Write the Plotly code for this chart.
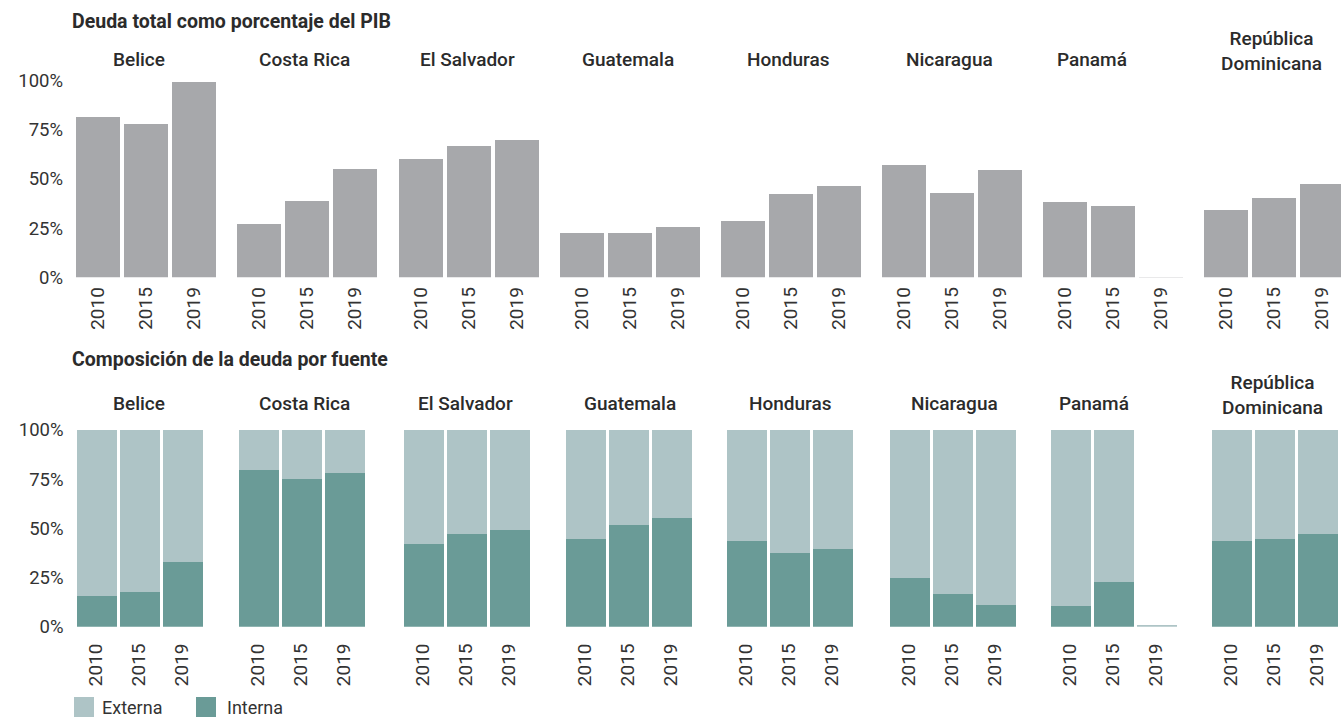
import plotly.graph_objects as go

# ---------------- data ----------------
countries = ["Belice", "Costa Rica", "El Salvador", "Guatemala", "Honduras",
             "Nicaragua", "Panamá", "República<br>Dominicana"]
years = ["2010", "2015", "2019"]

# Deuda total como porcentaje del PIB (%)
total_2010 = [81.5, 27.1, 60.6, 23.0, 29.1, 57.1, 38.3, 34.7]
total_2015 = [77.9, 38.8, 67.2, 23.0, 42.8, 43.3, 36.7, 40.8]
total_2019 = [99.6, 55.5, 69.8, 25.6, 46.4, 55.0, 0.4, 47.9]

# Composición de la deuda por fuente (%)
interna_2010 = [15.6, 79.7, 42.0, 44.6, 43.6, 24.8, 10.5, 43.6]
interna_2015 = [17.6, 75.1, 47.1, 51.7, 37.5, 16.6, 22.7, 44.6]
interna_2019 = [32.9, 78.1, 49.2, 55.3, 39.5, 11.0, 0.0, 47.1]
externa_2010 = [84.4, 20.3, 58.0, 55.4, 56.4, 75.2, 89.5, 56.4]
externa_2015 = [82.4, 24.9, 52.9, 48.3, 62.5, 83.4, 77.3, 55.4]
externa_2019 = [67.1, 21.9, 50.8, 44.7, 60.5, 89.0, 0.4, 52.9]

y_ticks = [0, 25, 50, 75, 100]
y_tick_text = [f"{v}%" for v in y_ticks]

# ---------------- style / layout ----------------
W, H = 1341, 717
FONT = "Roboto"
GRAY = "#a7a8ab"
EXT = "#aec4c6"
INT = "#6a9b97"
TXT = "#2b2b2b"

top_left = [76, 237, 399, 560, 721, 882, 1043, 1204]    # px, left edge of first bar
bot_left = [76, 238, 403, 565, 726, 889, 1050, 1211]
top_pitch, top_bar = 48, 44
bot_pitch, bot_bar = 43, 40
top_y = (80.5, 277.3)   # px of 100% and 0%
bot_y = (430.0, 626.7)

top_title_x = [139, 304, 467, 628, 788, 949.5, 1092, 1271]
bot_title_x = [139, 304, 465, 630, 790.5, 954.5, 1093.5, 1272]


def px(x):
    return x / W


def py(y):
    return 1 - y / H


fig = go.Figure()
layout = {}

for row in range(2):
    for k in range(8):
        n = row * 8 + k + 1
        xs = "x" if n == 1 else f"x{n}"
        ys = "y" if n == 1 else f"y{n}"
        xkey = "xaxis" if n == 1 else f"xaxis{n}"
        ykey = "yaxis" if n == 1 else f"yaxis{n}"
        if row == 0:
            pitch, bw, left, yb = top_pitch, top_bar, top_left[k], top_y
            standoff = 5
        else:
            pitch, bw, left, yb = bot_pitch, bot_bar, bot_left[k], bot_y
            standoff = 12
        d0 = left - (pitch - bw) / 2
        d1 = min(d0 + 3 * pitch, W)
        rng = [-0.5, -0.5 + (d1 - d0) / pitch]

        if row == 0:
            fig.add_trace(go.Bar(
                x=years, y=[total_2010[k], total_2015[k], total_2019[k]],
                xaxis=xs, yaxis=ys, marker=dict(color=GRAY, line=dict(width=0)),
                width=bw / pitch, showlegend=False,
                hovertemplate="%{x}: %{y:.1f}%<extra></extra>"))
        else:
            fig.add_trace(go.Bar(
                x=years, y=[interna_2010[k], interna_2015[k], interna_2019[k]],
                xaxis=xs, yaxis=ys, marker=dict(color=INT, line=dict(width=0)),
                width=bw / pitch, showlegend=False, name="Interna",
                hovertemplate="Interna %{x}: %{y:.1f}%<extra></extra>"))
            fig.add_trace(go.Bar(
                x=years, y=[externa_2010[k], externa_2015[k], externa_2019[k]],
                xaxis=xs, yaxis=ys, marker=dict(color=EXT, line=dict(width=0)),
                width=bw / pitch, showlegend=False, name="Externa",
                hovertemplate="Externa %{x}: %{y:.1f}%<extra></extra>"))

        layout[xkey] = dict(
            domain=[px(d0), px(d1)], range=rng, type="category",
            anchor=ys, tickangle=-90, showline=False, showgrid=False,
            zeroline=False, ticks="", ticklabelstandoff=standoff,
            automargin=False,
            tickfont=dict(family=FONT, size=19, color="#333333"),
            fixedrange=True)
        layout[ykey] = dict(
            domain=[py(yb[1]), py(yb[0])], range=[0, 100], anchor=xs,
            tickmode="array", tickvals=y_ticks, ticktext=y_tick_text,
            showticklabels=(k == 0),
            showgrid=False, zeroline=False, showline=False, ticks="",
            ticklabelstandoff=10, automargin=False,
            tickfont=dict(family=FONT, size=18.5, color="#333333"),
            fixedrange=True)

annotations = []
# Section titles
annotations.append(dict(text="<b>Deuda total como porcentaje del PIB</b>",
                        x=px(70), y=py(22), xref="paper", yref="paper",
                        xanchor="left", yanchor="middle", showarrow=False,
                        font=dict(family=FONT, size=19.5, color=TXT)))
annotations.append(dict(text="<b>Composición de la deuda por fuente</b>",
                        x=px(70), y=py(359), xref="paper", yref="paper",
                        xanchor="left", yanchor="middle", showarrow=False,
                        font=dict(family=FONT, size=19.5, color=TXT)))
# Country titles
for k, c in enumerate(countries):
    two = "<br>" in c
    annotations.append(dict(text=c, x=px(top_title_x[k]),
                            y=py(51 if two else 59), xref="paper", yref="paper",
                            xanchor="center", yanchor="middle", showarrow=False,
                            font=dict(family=FONT, size=19, color=TXT, weight=500)))
    annotations.append(dict(text=c, x=px(bot_title_x[k]),
                            y=py(395 if two else 403), xref="paper", yref="paper",
                            xanchor="center", yanchor="middle", showarrow=False,
                            font=dict(family=FONT, size=19, color=TXT, weight=500)))

# Legend (manual)
shapes = []
legend_items = [("Externa", EXT, 74, 100), ("Interna", INT, 196, 225)]
for label, col, sx, tx in legend_items:
    shapes.append(dict(type="rect", xref="paper", yref="paper",
                       x0=px(sx), x1=px(sx + 20), y0=py(717), y1=py(697),
                       fillcolor=col, line=dict(width=0)))
    annotations.append(dict(text=label, x=px(tx), y=py(707), xref="paper",
                            yref="paper", xanchor="left", yanchor="middle",
                            showarrow=False,
                            font=dict(family=FONT, size=18, color="#333333")))

fig.update_layout(
    width=W, height=H,
    margin=dict(l=0, r=0, t=0, b=0, pad=0, autoexpand=False),
    paper_bgcolor="white", plot_bgcolor="white",
    barmode="stack", bargap=0,
    annotations=annotations, shapes=shapes,
    showlegend=False,
    font=dict(family=FONT, color=TXT),
    **layout)

fig.write_html("out.html", config={"displayModeBar": False},
               post_script="document.body.style.margin='0';")
